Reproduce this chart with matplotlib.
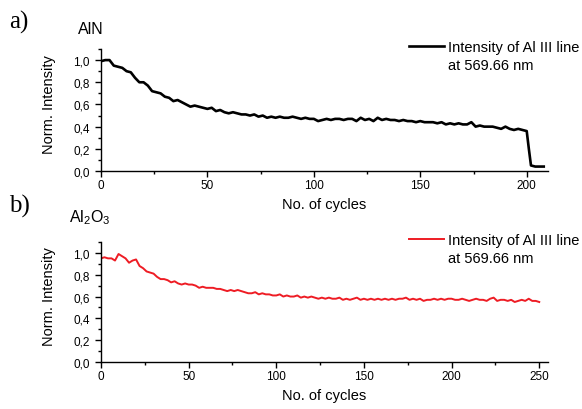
import numpy as np
import matplotlib
matplotlib.use("Agg")
import matplotlib.pyplot as plt
from matplotlib.ticker import MultipleLocator, FuncFormatter

plt.rcParams['font.family'] = ['Liberation Sans', 'DejaVu Sans']
plt.rcParams['mathtext.fontset'] = 'custom'
plt.rcParams['mathtext.rm'] = 'Liberation Sans'
plt.rcParams['mathtext.it'] = 'Liberation Sans'

# AlN: Al III line intensity, every 2nd cycle, then the drop at the end
aln_cycles = list(range(0, 201, 2)) + [201, 202, 204, 206, 208]
aln_intensity = [
    0.99, 1.00, 1.00, 0.95, 0.94, 0.93, 0.90, 0.89, 0.84, 0.80,
    0.80, 0.77, 0.72, 0.71, 0.70, 0.67, 0.66, 0.63, 0.64, 0.62,
    0.60, 0.58, 0.59, 0.58, 0.57, 0.56, 0.57, 0.54, 0.55, 0.53,
    0.52, 0.53, 0.52, 0.51, 0.51, 0.50, 0.51, 0.49, 0.50, 0.48,
    0.49, 0.48, 0.49, 0.48, 0.48, 0.49, 0.48, 0.47, 0.48, 0.47,
    0.47, 0.45, 0.46, 0.47, 0.46, 0.47, 0.47, 0.46, 0.47, 0.47,
    0.45, 0.48, 0.46, 0.47, 0.45, 0.48, 0.46, 0.47, 0.46, 0.46,
    0.45, 0.46, 0.45, 0.45, 0.44, 0.45, 0.44, 0.44, 0.44, 0.43,
    0.44, 0.42, 0.43, 0.42, 0.43, 0.42, 0.42, 0.44, 0.40, 0.41,
    0.40, 0.40, 0.40, 0.39, 0.38, 0.40, 0.38, 0.37, 0.38, 0.37,
    0.36, 0.20, 0.05, 0.04, 0.04, 0.04,
]

# Al2O3: Al III line intensity, every 2nd cycle
al2o3_cycles = list(range(0, 251, 2))
al2o3_intensity = [
    0.95, 0.96, 0.95, 0.95, 0.93, 0.99, 0.97, 0.95, 0.91, 0.93,
    0.94, 0.88, 0.86, 0.83, 0.82, 0.81, 0.78, 0.76, 0.76, 0.75,
    0.73, 0.74, 0.72, 0.71, 0.72, 0.71, 0.71, 0.70, 0.68, 0.69,
    0.68, 0.68, 0.68, 0.67, 0.67, 0.66, 0.65, 0.66, 0.65, 0.66,
    0.65, 0.64, 0.63, 0.63, 0.64, 0.62, 0.63, 0.62, 0.62, 0.61,
    0.61, 0.62, 0.60, 0.61, 0.60, 0.60, 0.61, 0.59, 0.60, 0.59,
    0.60, 0.59, 0.58, 0.59, 0.58, 0.59, 0.58, 0.58, 0.59, 0.57,
    0.58, 0.57, 0.58, 0.59, 0.57, 0.58, 0.57, 0.58, 0.57, 0.58,
    0.57, 0.58, 0.57, 0.58, 0.57, 0.58, 0.58, 0.59, 0.57, 0.58,
    0.57, 0.58, 0.56, 0.57, 0.57, 0.58, 0.57, 0.58, 0.57, 0.58,
    0.58, 0.57, 0.57, 0.58, 0.57, 0.56, 0.57, 0.58, 0.57, 0.57,
    0.56, 0.58, 0.59, 0.56, 0.57, 0.57, 0.56, 0.57, 0.55, 0.56,
    0.57, 0.56, 0.58, 0.56, 0.56, 0.55,
]

legend_label = "Intensity of Al III line"
legend_label2 = "at 569.66 nm"

W, H = 582, 410
fig = plt.figure(figsize=(W / 100, H / 100), dpi=100)


def px_axes(left, top, right, bottom):
    return fig.add_axes([left / W, 1 - bottom / H, (right - left) / W, (bottom - top) / H])


def style_axes(ax, xmax, xmajor, xminor):
    ax.spines['top'].set_visible(False)
    ax.spines['right'].set_visible(False)
    ax.set_ylim(0, 1.1)
    ax.set_xlim(0, xmax)
    ax.yaxis.set_major_locator(MultipleLocator(0.2))
    ax.yaxis.set_minor_locator(MultipleLocator(0.1))
    ax.xaxis.set_major_locator(MultipleLocator(xmajor))
    ax.xaxis.set_minor_locator(MultipleLocator(xminor))
    ax.yaxis.set_major_formatter(FuncFormatter(lambda v, p: f"{v:.1f}".replace('.', ',')))
    ax.tick_params(which='major', direction='out', length=4, width=1, labelsize=8.5)
    ax.tick_params(axis='x', which='major', pad=2)
    ax.tick_params(axis='y', which='major', pad=4)
    ax.tick_params(which='minor', direction='out', length=2.5, width=1)
    for s in ('left', 'bottom'):
        ax.spines[s].set_linewidth(1)
    ax.set_xlabel("No. of cycles", fontsize=10.5, labelpad=4)
    ax.set_ylabel("Norm. Intensity", fontsize=10.5)
    ax.yaxis.set_label_coords(-0.1, 0.55)


def add_legend(ax, line, top_px):
    leg = ax.legend([line], [legend_label], loc='upper left', frameon=False,
                    bbox_to_anchor=(409 / W, 1 - top_px / H), bbox_transform=fig.transFigure,
                    fontsize=10.5, handlelength=2.4, handletextpad=0.25,
                    borderpad=0, borderaxespad=0)
    fig.text(448 / W, 1 - (top_px + 18) / H, legend_label2, fontsize=10.5,
             ha='left', va='top')
    return leg


# a) AlN
ax1 = px_axes(101, 50, 548, 172)
l1, = ax1.plot(aln_cycles, aln_intensity, color='black', lw=1.9)
style_axes(ax1, 210, 50, 25)
add_legend(ax1, l1, 41)
fig.text(9 / W, 1 - 22 / H, "a)", family='Liberation Serif', fontsize=18, va='center')
fig.text(78 / W, 1 - 29 / H, "AlN", fontsize=11.5, va='center')

# b) Al2O3
ax2 = px_axes(101, 243, 548, 363)
l2, = ax2.plot(al2o3_cycles, al2o3_intensity, color='#ee1c24', lw=1.4)
style_axes(ax2, 255, 50, 25)
add_legend(ax2, l2, 234)
fig.text(9 / W, 1 - 206 / H, "b)", family='Liberation Serif', fontsize=18, va='center')
fig.text(69 / W, 1 - 222 / H, r"Al$_2$O$_3$", fontsize=11.5, va='baseline')

fig.savefig("out.png", dpi=100)
